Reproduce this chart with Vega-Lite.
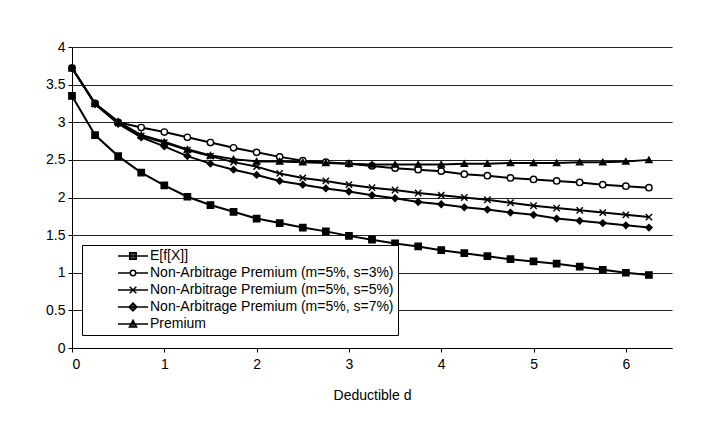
{
  "$schema": "https://vega.github.io/schema/vega-lite/v6.json",
  "width": 600,
  "height": 301,
  "autosize": {"type": "none"},
  "padding": {"left": 72, "top": 47, "right": 52, "bottom": 77},
  "background": "white",
  "config": {"font": "Liberation Sans", "view": {"stroke": null}},
  "datasets": {
    "pts": [
      {"d": 0, "s": "E[f[X]]", "v": 3.35}, {"d": 0.25, "s": "E[f[X]]", "v": 2.83}, {"d": 0.5, "s": "E[f[X]]", "v": 2.55}, {"d": 0.75, "s": "E[f[X]]", "v": 2.33}, {"d": 1, "s": "E[f[X]]", "v": 2.16}, {"d": 1.25, "s": "E[f[X]]", "v": 2.01}, {"d": 1.5, "s": "E[f[X]]", "v": 1.9}, {"d": 1.75, "s": "E[f[X]]", "v": 1.81}, {"d": 2, "s": "E[f[X]]", "v": 1.72}, {"d": 2.25, "s": "E[f[X]]", "v": 1.66}, {"d": 2.5, "s": "E[f[X]]", "v": 1.6}, {"d": 2.75, "s": "E[f[X]]", "v": 1.55}, {"d": 3, "s": "E[f[X]]", "v": 1.49}, {"d": 3.25, "s": "E[f[X]]", "v": 1.44}, {"d": 3.5, "s": "E[f[X]]", "v": 1.39}, {"d": 3.75, "s": "E[f[X]]", "v": 1.35}, {"d": 4, "s": "E[f[X]]", "v": 1.3}, {"d": 4.25, "s": "E[f[X]]", "v": 1.26}, {"d": 4.5, "s": "E[f[X]]", "v": 1.22}, {"d": 4.75, "s": "E[f[X]]", "v": 1.18}, {"d": 5, "s": "E[f[X]]", "v": 1.15}, {"d": 5.25, "s": "E[f[X]]", "v": 1.12}, {"d": 5.5, "s": "E[f[X]]", "v": 1.08}, {"d": 5.75, "s": "E[f[X]]", "v": 1.04}, {"d": 6, "s": "E[f[X]]", "v": 1.0}, {"d": 6.25, "s": "E[f[X]]", "v": 0.97},
      {"d": 0, "s": "Non-Arbitrage Premium (m=5%, s=3%)", "v": 3.72}, {"d": 0.25, "s": "Non-Arbitrage Premium (m=5%, s=3%)", "v": 3.25}, {"d": 0.5, "s": "Non-Arbitrage Premium (m=5%, s=3%)", "v": 3.0}, {"d": 0.75, "s": "Non-Arbitrage Premium (m=5%, s=3%)", "v": 2.93}, {"d": 1, "s": "Non-Arbitrage Premium (m=5%, s=3%)", "v": 2.87}, {"d": 1.25, "s": "Non-Arbitrage Premium (m=5%, s=3%)", "v": 2.8}, {"d": 1.5, "s": "Non-Arbitrage Premium (m=5%, s=3%)", "v": 2.73}, {"d": 1.75, "s": "Non-Arbitrage Premium (m=5%, s=3%)", "v": 2.66}, {"d": 2, "s": "Non-Arbitrage Premium (m=5%, s=3%)", "v": 2.6}, {"d": 2.25, "s": "Non-Arbitrage Premium (m=5%, s=3%)", "v": 2.54}, {"d": 2.5, "s": "Non-Arbitrage Premium (m=5%, s=3%)", "v": 2.49}, {"d": 2.75, "s": "Non-Arbitrage Premium (m=5%, s=3%)", "v": 2.47}, {"d": 3, "s": "Non-Arbitrage Premium (m=5%, s=3%)", "v": 2.45}, {"d": 3.25, "s": "Non-Arbitrage Premium (m=5%, s=3%)", "v": 2.42}, {"d": 3.5, "s": "Non-Arbitrage Premium (m=5%, s=3%)", "v": 2.39}, {"d": 3.75, "s": "Non-Arbitrage Premium (m=5%, s=3%)", "v": 2.37}, {"d": 4, "s": "Non-Arbitrage Premium (m=5%, s=3%)", "v": 2.35}, {"d": 4.25, "s": "Non-Arbitrage Premium (m=5%, s=3%)", "v": 2.31}, {"d": 4.5, "s": "Non-Arbitrage Premium (m=5%, s=3%)", "v": 2.29}, {"d": 4.75, "s": "Non-Arbitrage Premium (m=5%, s=3%)", "v": 2.26}, {"d": 5, "s": "Non-Arbitrage Premium (m=5%, s=3%)", "v": 2.24}, {"d": 5.25, "s": "Non-Arbitrage Premium (m=5%, s=3%)", "v": 2.22}, {"d": 5.5, "s": "Non-Arbitrage Premium (m=5%, s=3%)", "v": 2.2}, {"d": 5.75, "s": "Non-Arbitrage Premium (m=5%, s=3%)", "v": 2.17}, {"d": 6, "s": "Non-Arbitrage Premium (m=5%, s=3%)", "v": 2.15}, {"d": 6.25, "s": "Non-Arbitrage Premium (m=5%, s=3%)", "v": 2.13},
      {"d": 0, "s": "Non-Arbitrage Premium (m=5%, s=5%)", "v": 3.72}, {"d": 0.25, "s": "Non-Arbitrage Premium (m=5%, s=5%)", "v": 3.24}, {"d": 0.5, "s": "Non-Arbitrage Premium (m=5%, s=5%)", "v": 2.99}, {"d": 0.75, "s": "Non-Arbitrage Premium (m=5%, s=5%)", "v": 2.82}, {"d": 1, "s": "Non-Arbitrage Premium (m=5%, s=5%)", "v": 2.73}, {"d": 1.25, "s": "Non-Arbitrage Premium (m=5%, s=5%)", "v": 2.63}, {"d": 1.5, "s": "Non-Arbitrage Premium (m=5%, s=5%)", "v": 2.55}, {"d": 1.75, "s": "Non-Arbitrage Premium (m=5%, s=5%)", "v": 2.47}, {"d": 2, "s": "Non-Arbitrage Premium (m=5%, s=5%)", "v": 2.41}, {"d": 2.25, "s": "Non-Arbitrage Premium (m=5%, s=5%)", "v": 2.32}, {"d": 2.5, "s": "Non-Arbitrage Premium (m=5%, s=5%)", "v": 2.26}, {"d": 2.75, "s": "Non-Arbitrage Premium (m=5%, s=5%)", "v": 2.22}, {"d": 3, "s": "Non-Arbitrage Premium (m=5%, s=5%)", "v": 2.17}, {"d": 3.25, "s": "Non-Arbitrage Premium (m=5%, s=5%)", "v": 2.13}, {"d": 3.5, "s": "Non-Arbitrage Premium (m=5%, s=5%)", "v": 2.1}, {"d": 3.75, "s": "Non-Arbitrage Premium (m=5%, s=5%)", "v": 2.06}, {"d": 4, "s": "Non-Arbitrage Premium (m=5%, s=5%)", "v": 2.03}, {"d": 4.25, "s": "Non-Arbitrage Premium (m=5%, s=5%)", "v": 2.0}, {"d": 4.5, "s": "Non-Arbitrage Premium (m=5%, s=5%)", "v": 1.97}, {"d": 4.75, "s": "Non-Arbitrage Premium (m=5%, s=5%)", "v": 1.93}, {"d": 5, "s": "Non-Arbitrage Premium (m=5%, s=5%)", "v": 1.89}, {"d": 5.25, "s": "Non-Arbitrage Premium (m=5%, s=5%)", "v": 1.86}, {"d": 5.5, "s": "Non-Arbitrage Premium (m=5%, s=5%)", "v": 1.83}, {"d": 5.75, "s": "Non-Arbitrage Premium (m=5%, s=5%)", "v": 1.8}, {"d": 6, "s": "Non-Arbitrage Premium (m=5%, s=5%)", "v": 1.77}, {"d": 6.25, "s": "Non-Arbitrage Premium (m=5%, s=5%)", "v": 1.74},
      {"d": 0, "s": "Non-Arbitrage Premium (m=5%, s=7%)", "v": 3.72}, {"d": 0.25, "s": "Non-Arbitrage Premium (m=5%, s=7%)", "v": 3.24}, {"d": 0.5, "s": "Non-Arbitrage Premium (m=5%, s=7%)", "v": 2.98}, {"d": 0.75, "s": "Non-Arbitrage Premium (m=5%, s=7%)", "v": 2.8}, {"d": 1, "s": "Non-Arbitrage Premium (m=5%, s=7%)", "v": 2.68}, {"d": 1.25, "s": "Non-Arbitrage Premium (m=5%, s=7%)", "v": 2.55}, {"d": 1.5, "s": "Non-Arbitrage Premium (m=5%, s=7%)", "v": 2.45}, {"d": 1.75, "s": "Non-Arbitrage Premium (m=5%, s=7%)", "v": 2.37}, {"d": 2, "s": "Non-Arbitrage Premium (m=5%, s=7%)", "v": 2.3}, {"d": 2.25, "s": "Non-Arbitrage Premium (m=5%, s=7%)", "v": 2.22}, {"d": 2.5, "s": "Non-Arbitrage Premium (m=5%, s=7%)", "v": 2.17}, {"d": 2.75, "s": "Non-Arbitrage Premium (m=5%, s=7%)", "v": 2.12}, {"d": 3, "s": "Non-Arbitrage Premium (m=5%, s=7%)", "v": 2.08}, {"d": 3.25, "s": "Non-Arbitrage Premium (m=5%, s=7%)", "v": 2.03}, {"d": 3.5, "s": "Non-Arbitrage Premium (m=5%, s=7%)", "v": 1.99}, {"d": 3.75, "s": "Non-Arbitrage Premium (m=5%, s=7%)", "v": 1.94}, {"d": 4, "s": "Non-Arbitrage Premium (m=5%, s=7%)", "v": 1.91}, {"d": 4.25, "s": "Non-Arbitrage Premium (m=5%, s=7%)", "v": 1.87}, {"d": 4.5, "s": "Non-Arbitrage Premium (m=5%, s=7%)", "v": 1.84}, {"d": 4.75, "s": "Non-Arbitrage Premium (m=5%, s=7%)", "v": 1.8}, {"d": 5, "s": "Non-Arbitrage Premium (m=5%, s=7%)", "v": 1.77}, {"d": 5.25, "s": "Non-Arbitrage Premium (m=5%, s=7%)", "v": 1.72}, {"d": 5.5, "s": "Non-Arbitrage Premium (m=5%, s=7%)", "v": 1.69}, {"d": 5.75, "s": "Non-Arbitrage Premium (m=5%, s=7%)", "v": 1.66}, {"d": 6, "s": "Non-Arbitrage Premium (m=5%, s=7%)", "v": 1.63}, {"d": 6.25, "s": "Non-Arbitrage Premium (m=5%, s=7%)", "v": 1.6},
      {"d": 0, "s": "Premium", "v": 3.72}, {"d": 0.25, "s": "Premium", "v": 3.25}, {"d": 0.5, "s": "Premium", "v": 3.01}, {"d": 0.75, "s": "Premium", "v": 2.83}, {"d": 1, "s": "Premium", "v": 2.74}, {"d": 1.25, "s": "Premium", "v": 2.64}, {"d": 1.5, "s": "Premium", "v": 2.56}, {"d": 1.75, "s": "Premium", "v": 2.51}, {"d": 2, "s": "Premium", "v": 2.48}, {"d": 2.25, "s": "Premium", "v": 2.48}, {"d": 2.5, "s": "Premium", "v": 2.47}, {"d": 2.75, "s": "Premium", "v": 2.46}, {"d": 3, "s": "Premium", "v": 2.45}, {"d": 3.25, "s": "Premium", "v": 2.44}, {"d": 3.5, "s": "Premium", "v": 2.44}, {"d": 3.75, "s": "Premium", "v": 2.44}, {"d": 4, "s": "Premium", "v": 2.44}, {"d": 4.25, "s": "Premium", "v": 2.45}, {"d": 4.5, "s": "Premium", "v": 2.45}, {"d": 4.75, "s": "Premium", "v": 2.46}, {"d": 5, "s": "Premium", "v": 2.46}, {"d": 5.25, "s": "Premium", "v": 2.46}, {"d": 5.5, "s": "Premium", "v": 2.47}, {"d": 5.75, "s": "Premium", "v": 2.47}, {"d": 6, "s": "Premium", "v": 2.48}, {"d": 6.25, "s": "Premium", "v": 2.5}
    ]
  },
  "data": {"name": "pts"},
  "encoding": {
    "x": {
      "field": "d", "type": "quantitative",
      "scale": {"domain": [0, 6.5], "nice": false, "zero": false},
      "axis": {
        "values": [0, 1, 2, 3, 4, 5, 6], "format": "d", "title": "Deductible d", "grid": false,
        "domainColor": "black", "tickColor": "black", "tickSize": 4,
        "labelFontSize": 14, "labelColor": "black", "labelPadding": 5,
        "titleFontSize": 14, "titleFontWeight": "normal", "titleColor": "black", "titlePadding": 17
      }
    },
    "y": {
      "field": "v", "type": "quantitative",
      "scale": {"domain": [0, 4], "nice": false},
      "axis": {
        "values": [0, 0.5, 1, 1.5, 2, 2.5, 3, 3.5, 4], "format": "~g", "title": null,
        "grid": true, "gridColor": "#222", "gridOpacity": 1, "gridWidth": 1,
        "domainColor": "black", "tickColor": "black", "tickSize": 4,
        "labelFontSize": 14, "labelColor": "black", "labelPadding": 3
      }
    }
  },
  "layer": [
    {
      "mark": {"type": "line", "color": "black", "strokeWidth": 2},
      "encoding": {"detail": {"field": "s", "type": "nominal"}}
    },
    {
      "mark": {"type": "point", "filled": true, "size": 40, "stroke": "black", "strokeWidth": 1.4},
      "encoding": {
        "shape": {
          "field": "s", "type": "nominal",
          "scale": {
            "domain": ["E[f[X]]", "Non-Arbitrage Premium (m=5%, s=3%)", "Non-Arbitrage Premium (m=5%, s=5%)", "Non-Arbitrage Premium (m=5%, s=7%)", "Premium"],
            "range": ["square", "circle", "M-1,-1L1,1M1,-1L-1,1", "diamond", "triangle-up"]
          },
          "legend": null
        },
        "fill": {
          "field": "s", "type": "nominal",
          "scale": {
            "domain": ["E[f[X]]", "Non-Arbitrage Premium (m=5%, s=3%)", "Non-Arbitrage Premium (m=5%, s=5%)", "Non-Arbitrage Premium (m=5%, s=7%)", "Premium"],
            "range": ["black", "white", "black", "black", "black"]
          },
          "legend": null
        },
        "opacity": {
          "field": "s", "type": "nominal",
          "scale": {"range": [1, 1, 1, 1, 1]},
          "legend": {
            "orient": "none", "legendX": 10, "legendY": 198, "title": null,
            "strokeColor": "black", "fillColor": "white", "padding": 4,
            "labelFont": "Liberation Sans", "labelFontSize": 14, "labelColor": "black", "labelLimit": 400,
            "symbolSize": 144, "symbolStrokeWidth": 1.5, "symbolStrokeColor": "black",
            "rowPadding": 3, "labelOffset": 10, "symbolOffset": 40,
            "encoding": {
              "symbols": {
                "shape": {"value": {"expr": "datum.value === 'E[f[X]]' ? 'M-2.5,0H2.5M-0.55,-0.55H0.55V0.55H-0.55Z' : indexof(datum.value, 's=3%') >= 0 ? 'M-2.5,0H-0.45M0.45,0H2.5M-0.45,0A0.45,0.45,0,1,0,0.45,0A0.45,0.45,0,1,0,-0.45,0Z' : indexof(datum.value, 's=5%') >= 0 ? 'M-2.5,0H2.5M-0.55,-0.55L0.55,0.55M0.55,-0.55L-0.55,0.55' : indexof(datum.value, 's=7%') >= 0 ? 'M-2.5,0H2.5M0,-0.65L0.65,0L0,0.65L-0.65,0Z' : 'M-2.5,0H2.5M0,-0.6L0.6,0.5H-0.6Z'"}},
                "fill": {"value": {"expr": "indexof(datum.value, 's=3%') >= 0 ? 'white' : 'black'"}},
                "stroke": {"value": "black"},
                "strokeWidth": {"value": 1.5}
              }
            }
          }
        }
      }
    }
  ]
}
